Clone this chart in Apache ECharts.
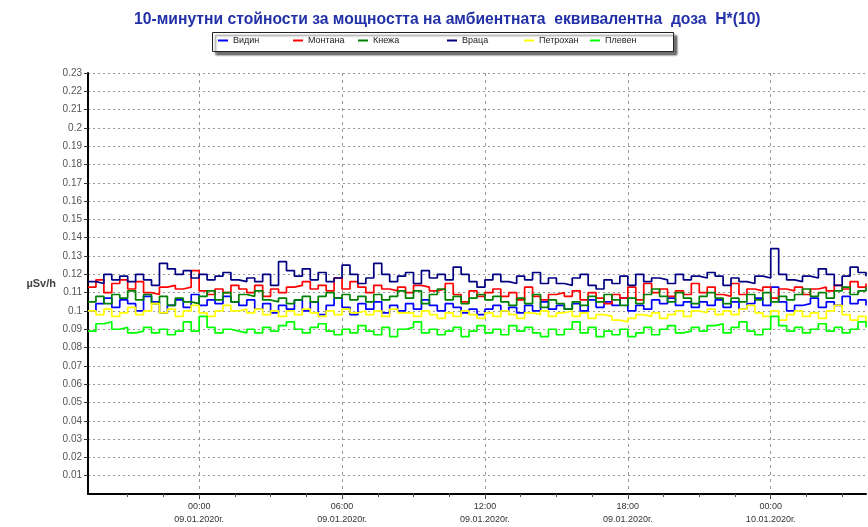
<!DOCTYPE html>
<html>
<head>
<meta charset="utf-8">
<script src="https://cdn.jsdelivr.net/npm/echarts@6/dist/echarts.min.js"></script>
<style>
  html, body { margin: 0; padding: 0; background: #fff; }
  #chart { width: 868px; height: 527px; }
</style>
</head>
<body>
<div id="chart"></div>
<script>
// 20-минутни отчети, от 08.01.2020 19:20 до 10.01.2020 04:00
const startTime = new Date(2020, 0, 8, 19, 20).getTime()
const endTime = new Date(2020, 0, 10, 4, 0).getTime()
const stepMs = 20 * 60 * 1000
const HOUR = 3600 * 1000

const stations = ['Видин', 'Монтана', 'Кнежа', 'Враца', 'Петрохан', 'Плевен']
const colors = ['#0000ff', '#ff0000', '#008000', '#000080', '#ffff00', '#00ff00']

// надписи по оста X (през 6 часа) и малки чертички (през 1.5 часа)
const majorTicks = [
  new Date(2020, 0, 9, 0, 0).getTime(),
  new Date(2020, 0, 9, 6, 0).getTime(),
  new Date(2020, 0, 9, 12, 0).getTime(),
  new Date(2020, 0, 9, 18, 0).getTime(),
  new Date(2020, 0, 10, 0, 0).getTime()
]
const minorTicks = []
for (let t = majorTicks[0] - 3 * HOUR; t < endTime; t += 1.5 * HOUR) {
  if (t > startTime) minorTicks.push(t)
}

const vidin = [
  0.1, 0.104, 0.107, 0.102, 0.106, 0.104, 0.1, 0.108, 0.105, 0.099, 0.103, 0.106, 0.102, 0.109, 0.103, 0.106, 0.104, 0.108, 0.105, 0.103,
  0.106, 0.101, 0.104, 0.099, 0.103, 0.101, 0.106, 0.1, 0.105, 0.098, 0.103, 0.107, 0.102, 0.098, 0.104, 0.101, 0.105, 0.099, 0.103, 0.1,
  0.104, 0.101, 0.106, 0.103, 0.1, 0.104, 0.102, 0.099, 0.101, 0.098, 0.101, 0.103, 0.1, 0.102, 0.099, 0.103, 0.1, 0.105, 0.101, 0.103,
  0.101, 0.104, 0.1, 0.106, 0.102, 0.105, 0.103, 0.107, 0.1, 0.103, 0.101, 0.106, 0.104, 0.107, 0.103, 0.105, 0.102, 0.105, 0.103, 0.106,
  0.102, 0.105, 0.101, 0.104, 0.107, 0.103, 0.113, 0.105, 0.1, 0.103, 0.104, 0.107, 0.102, 0.105, 0.103, 0.108, 0.104, 0.106, 0.103
]
const montana = [
  0.113, 0.117, 0.11, 0.115, 0.117, 0.112, 0.116, 0.11, 0.109, 0.113, 0.114, 0.112, 0.113, 0.122, 0.111, 0.109, 0.112, 0.11, 0.114, 0.112,
  0.11, 0.114, 0.108, 0.112, 0.11, 0.113, 0.114, 0.116, 0.112, 0.114, 0.111, 0.118, 0.112, 0.116, 0.113, 0.11, 0.114, 0.112, 0.111, 0.113,
  0.11, 0.114, 0.113, 0.111, 0.112, 0.115, 0.109, 0.105, 0.111, 0.108, 0.11, 0.112, 0.108, 0.11, 0.106, 0.113, 0.108, 0.106, 0.109, 0.11,
  0.108, 0.111, 0.106, 0.11, 0.107, 0.104, 0.109, 0.107, 0.113, 0.106, 0.115, 0.11, 0.112, 0.108, 0.111, 0.109, 0.115, 0.11, 0.113, 0.109,
  0.108, 0.115, 0.109, 0.112, 0.111, 0.113, 0.107, 0.112, 0.111, 0.113, 0.109, 0.112, 0.113, 0.111, 0.114, 0.112, 0.116, 0.113, 0.115
]
const knezha = [
  0.105, 0.108, 0.104, 0.109, 0.107, 0.111, 0.106, 0.109, 0.104, 0.108, 0.103, 0.107, 0.105, 0.104, 0.108, 0.111, 0.106, 0.11, 0.105, 0.109,
  0.108, 0.111, 0.106, 0.105, 0.107, 0.104, 0.106, 0.108, 0.105, 0.108, 0.11, 0.107, 0.109, 0.106, 0.108, 0.105, 0.109, 0.106, 0.108, 0.111,
  0.107, 0.111, 0.104, 0.109, 0.112, 0.106, 0.108, 0.104, 0.107, 0.109, 0.106, 0.108, 0.105, 0.103, 0.107, 0.104, 0.109, 0.102, 0.106, 0.104,
  0.101, 0.105, 0.103, 0.108, 0.105, 0.109, 0.106, 0.103, 0.107, 0.104, 0.109, 0.112, 0.108, 0.105, 0.11, 0.107, 0.104, 0.108, 0.11, 0.107,
  0.104, 0.107, 0.105, 0.109, 0.106, 0.11, 0.105, 0.108, 0.106, 0.109, 0.112, 0.108, 0.11, 0.107, 0.111, 0.113, 0.109, 0.111, 0.113
]
const vratsa = [
  0.116, 0.115, 0.12, 0.117, 0.119, 0.116, 0.12, 0.117, 0.114, 0.126, 0.123, 0.12, 0.122, 0.118, 0.12, 0.117, 0.119, 0.121, 0.117, 0.116,
  0.118, 0.116, 0.12, 0.114, 0.127, 0.122, 0.119, 0.123, 0.117, 0.121, 0.116, 0.118, 0.125, 0.12, 0.115, 0.118, 0.126, 0.12, 0.116, 0.119,
  0.121, 0.115, 0.122, 0.118, 0.12, 0.117, 0.124, 0.12, 0.116, 0.113, 0.117, 0.12, 0.116, 0.115, 0.119, 0.117, 0.121, 0.115, 0.118, 0.115,
  0.114, 0.118, 0.12, 0.114, 0.112, 0.117, 0.115, 0.119, 0.114, 0.12, 0.116, 0.118, 0.117, 0.115, 0.12, 0.117, 0.119, 0.118, 0.121, 0.119,
  0.114, 0.118, 0.116, 0.115, 0.119, 0.118, 0.134, 0.12, 0.117, 0.116, 0.119, 0.118, 0.123, 0.12, 0.114, 0.119, 0.124, 0.121, 0.119
]
const petrohan = [
  0.1, 0.098, 0.101, 0.097, 0.099, 0.102, 0.098, 0.1, 0.104, 0.099, 0.101, 0.097, 0.1, 0.103, 0.099, 0.097, 0.1, 0.103, 0.1, 0.101,
  0.099, 0.101, 0.098, 0.1, 0.097, 0.1, 0.098, 0.101, 0.099, 0.097, 0.1, 0.098, 0.101, 0.099, 0.1, 0.098, 0.1, 0.097, 0.101, 0.099,
  0.099, 0.097, 0.1, 0.098, 0.096, 0.099, 0.097, 0.1, 0.098, 0.096, 0.099, 0.097, 0.1, 0.098, 0.096, 0.099, 0.098, 0.1, 0.097, 0.099,
  0.1, 0.097, 0.099, 0.096, 0.098, 0.097, 0.095, 0.094, 0.096, 0.098, 0.097, 0.099, 0.096, 0.098, 0.1, 0.097, 0.1, 0.099, 0.101, 0.098,
  0.1, 0.098, 0.101, 0.103, 0.099, 0.097, 0.1, 0.095, 0.098, 0.1, 0.097, 0.099, 0.096, 0.1, 0.103, 0.098, 0.095, 0.097, 0.094
]
const pleven = [
  0.089, 0.093, 0.094, 0.09, 0.091, 0.088, 0.089, 0.091, 0.088, 0.09, 0.087, 0.089, 0.094, 0.089, 0.097, 0.091, 0.088, 0.09, 0.089, 0.088,
  0.09, 0.088, 0.091, 0.089, 0.092, 0.094, 0.09, 0.088, 0.091, 0.093, 0.089, 0.087, 0.09, 0.088, 0.092, 0.089, 0.087, 0.091, 0.086, 0.09,
  0.091, 0.094, 0.088, 0.09, 0.087, 0.089, 0.091, 0.086, 0.089, 0.092, 0.088, 0.09, 0.087, 0.092, 0.089, 0.091, 0.088, 0.086, 0.09, 0.087,
  0.09, 0.094, 0.088, 0.091, 0.086, 0.089, 0.087, 0.09, 0.086, 0.088, 0.091, 0.087, 0.09, 0.092, 0.088, 0.089, 0.091, 0.089, 0.092, 0.093,
  0.088, 0.091, 0.094, 0.089, 0.087, 0.09, 0.097, 0.092, 0.089, 0.091, 0.088, 0.09, 0.093, 0.089, 0.091, 0.088, 0.09, 0.094, 0.091
]
const seriesValues = [vidin, montana, knezha, vratsa, petrohan, pleven]

// позиции на елементите в легендата (по оригинала)
const legendLefts = [218, 293, 358, 447, 524, 590]

const pad = (n) => (n < 10 ? '0' : '') + n
const font = 'Liberation Sans, Arial, sans-serif'

const chart = echarts.init(document.getElementById('chart'))

const option = {
  animation: false,
  title: {
    text: '10-минутни стойности за мощността на амбиентната  еквивалентна  доза  H*(10)',
    left: 129,
    top: 7,
    textStyle: {
      fontFamily: font,
      fontSize: 15.7,
      fontWeight: 'bold',
      color: '#2230a8'
    }
  },
  // рамка на легендата със сянка
  graphic: [
    {
      type: 'rect',
      left: 212,
      top: 32,
      z: 0,
      shape: { width: 461, height: 19 },
      style: {
        fill: '#fff',
        stroke: '#222',
        lineWidth: 1,
        shadowColor: 'rgba(0,0,0,0.55)',
        shadowBlur: 2,
        shadowOffsetX: 3,
        shadowOffsetY: 3
      }
    }
  ],
  legend: stations.map((name, i) => ({
    data: [name],
    left: legendLefts[i],
    top: 36,
    padding: 0,
    itemWidth: 10,
    itemHeight: 2,
    itemGap: 5,
    icon: 'rect',
    selectedMode: false,
    textStyle: {
      fontFamily: font,
      fontSize: 9,
      color: '#222',
      padding: [0, 0, 0, 0]
    }
  })),
  grid: {
    left: 88,
    right: 2,
    top: 73,
    bottom: 33
  },
  xAxis: [
    {
      type: 'value',
      min: startTime,
      max: endTime,
      axisLine: { lineStyle: { color: '#000', width: 2 } },
      axisTick: { show: true, length: 5, customValues: majorTicks, lineStyle: { color: '#333' } },
      splitLine: {
        show: true,
        lineStyle: { color: '#999', type: [3, 4], width: 1 }
      },
      axisLabel: {
        customValues: majorTicks,
        margin: 6,
        fontFamily: font,
        fontSize: 9,
        lineHeight: 13,
        color: '#333',
        formatter: (value) => {
          const d = new Date(value)
          return pad(d.getHours()) + ':' + pad(d.getMinutes()) + '\n' +
            pad(d.getDate()) + '.' + pad(d.getMonth() + 1) + '.' + d.getFullYear() + 'г.'
        }
      }
    },
    {
      // само малките чертички
      type: 'value',
      position: 'bottom',
      min: startTime,
      max: endTime,
      axisLine: { show: false },
      axisTick: { show: true, length: 3, customValues: minorTicks, lineStyle: { color: '#555' } },
      axisLabel: { show: false },
      splitLine: { show: false }
    }
  ],
  yAxis: {
    type: 'value',
    min: 0,
    max: 0.23,
    interval: 0.01,
    name: 'µSv/h',
    nameLocation: 'middle',
    nameRotate: 0,
    nameGap: 32,
    nameTextStyle: {
      fontFamily: font,
      fontSize: 11,
      fontWeight: 'bold',
      color: '#444'
    },
    axisLine: { show: true, lineStyle: { color: '#000', width: 2 } },
    axisTick: { show: true, length: 4, lineStyle: { color: '#333' } },
    splitLine: {
      show: true,
      lineStyle: { color: '#999', type: [2, 3], width: 1 }
    },
    axisLabel: {
      showMinLabel: false,
      margin: 6,
      fontFamily: font,
      fontSize: 10,
      color: '#555',
      formatter: (v) => parseFloat(v.toFixed(2)).toString()
    }
  },
  series: stations.map((name, i) => ({
    name: name,
    type: 'line',
    step: 'end',
    symbol: 'none',
    color: colors[i],
    lineStyle: { width: 1.7, color: colors[i] },
    data: seriesValues[i].map((v, k) => [startTime + k * stepMs, v])
  }))
}

chart.setOption(option)
</script>
</body>
</html>
